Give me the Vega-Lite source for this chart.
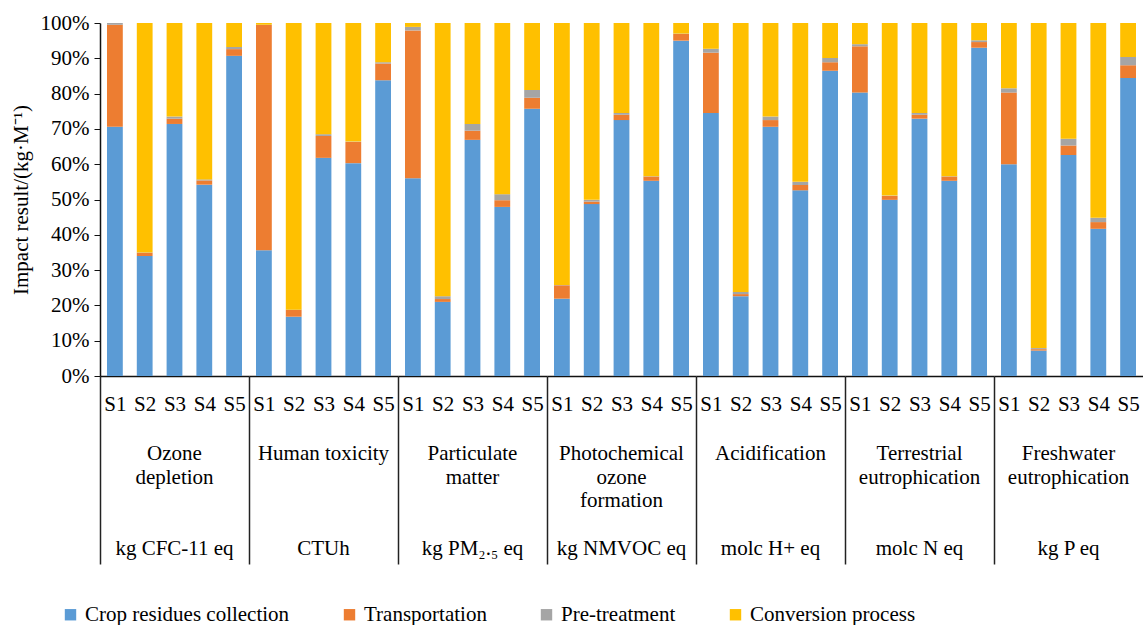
{
  "$schema": "https://vega.github.io/schema/vega-lite/v6.json",
  "padding": {"left": 10, "top": 12, "right": 0, "bottom": 0},
  "background": "white",
  "datasets": {
    "groups": [
      {"gi": 1, "label": "Ozone|depletion|\u2800|\u2800|kg CFC-11 eq"},
      {"gi": 2, "label": "Human toxicity|\u2800|\u2800|\u2800|CTUh"},
      {"gi": 3, "label": "Particulate|matter|\u2800|\u2800|kg PM\u2082.\u2085 eq"},
      {"gi": 4, "label": "Photochemical|ozone|formation|\u2800|kg NMVOC eq"},
      {"gi": 5, "label": "Acidification|\u2800|\u2800|\u2800|molc H+ eq"},
      {"gi": 6, "label": "Terrestrial|eutrophication|\u2800|\u2800|molc N eq"},
      {"gi": 7, "label": "Freshwater|eutrophication|\u2800|\u2800|kg P eq"}
    ]
  },
  "data": {"values": [
    {"gi":1,"s":"S1","k":1,"c":"Crop residues collection","v":70.6},{"gi":1,"s":"S1","k":2,"c":"Transportation","v":28.9},{"gi":1,"s":"S1","k":3,"c":"Pre-treatment","v":0.5},{"gi":1,"s":"S1","k":4,"c":"Conversion process","v":0.0},
    {"gi":1,"s":"S2","k":1,"c":"Crop residues collection","v":34.0},{"gi":1,"s":"S2","k":2,"c":"Transportation","v":0.9},{"gi":1,"s":"S2","k":3,"c":"Pre-treatment","v":0.1},{"gi":1,"s":"S2","k":4,"c":"Conversion process","v":65.0},
    {"gi":1,"s":"S3","k":1,"c":"Crop residues collection","v":71.4},{"gi":1,"s":"S3","k":2,"c":"Transportation","v":1.5},{"gi":1,"s":"S3","k":3,"c":"Pre-treatment","v":0.6},{"gi":1,"s":"S3","k":4,"c":"Conversion process","v":26.5},
    {"gi":1,"s":"S4","k":1,"c":"Crop residues collection","v":54.2},{"gi":1,"s":"S4","k":2,"c":"Transportation","v":1.2},{"gi":1,"s":"S4","k":3,"c":"Pre-treatment","v":0.3},{"gi":1,"s":"S4","k":4,"c":"Conversion process","v":44.3},
    {"gi":1,"s":"S5","k":1,"c":"Crop residues collection","v":90.7},{"gi":1,"s":"S5","k":2,"c":"Transportation","v":1.9},{"gi":1,"s":"S5","k":3,"c":"Pre-treatment","v":0.6},{"gi":1,"s":"S5","k":4,"c":"Conversion process","v":6.8},
    {"gi":2,"s":"S1","k":1,"c":"Crop residues collection","v":35.6},{"gi":2,"s":"S1","k":2,"c":"Transportation","v":63.8},{"gi":2,"s":"S1","k":3,"c":"Pre-treatment","v":0.1},{"gi":2,"s":"S1","k":4,"c":"Conversion process","v":0.5},
    {"gi":2,"s":"S2","k":1,"c":"Crop residues collection","v":16.8},{"gi":2,"s":"S2","k":2,"c":"Transportation","v":1.9},{"gi":2,"s":"S2","k":3,"c":"Pre-treatment","v":0.1},{"gi":2,"s":"S2","k":4,"c":"Conversion process","v":81.2},
    {"gi":2,"s":"S3","k":1,"c":"Crop residues collection","v":61.8},{"gi":2,"s":"S3","k":2,"c":"Transportation","v":6.2},{"gi":2,"s":"S3","k":3,"c":"Pre-treatment","v":0.5},{"gi":2,"s":"S3","k":4,"c":"Conversion process","v":31.5},
    {"gi":2,"s":"S4","k":1,"c":"Crop residues collection","v":60.3},{"gi":2,"s":"S4","k":2,"c":"Transportation","v":6.0},{"gi":2,"s":"S4","k":3,"c":"Pre-treatment","v":0.1},{"gi":2,"s":"S4","k":4,"c":"Conversion process","v":33.6},
    {"gi":2,"s":"S5","k":1,"c":"Crop residues collection","v":83.8},{"gi":2,"s":"S5","k":2,"c":"Transportation","v":4.7},{"gi":2,"s":"S5","k":3,"c":"Pre-treatment","v":0.4},{"gi":2,"s":"S5","k":4,"c":"Conversion process","v":11.1},
    {"gi":3,"s":"S1","k":1,"c":"Crop residues collection","v":56.0},{"gi":3,"s":"S1","k":2,"c":"Transportation","v":41.9},{"gi":3,"s":"S1","k":3,"c":"Pre-treatment","v":1.0},{"gi":3,"s":"S1","k":4,"c":"Conversion process","v":1.1},
    {"gi":3,"s":"S2","k":1,"c":"Crop residues collection","v":21.0},{"gi":3,"s":"S2","k":2,"c":"Transportation","v":0.8},{"gi":3,"s":"S2","k":3,"c":"Pre-treatment","v":0.8},{"gi":3,"s":"S2","k":4,"c":"Conversion process","v":77.4},
    {"gi":3,"s":"S3","k":1,"c":"Crop residues collection","v":66.9},{"gi":3,"s":"S3","k":2,"c":"Transportation","v":2.6},{"gi":3,"s":"S3","k":3,"c":"Pre-treatment","v":1.9},{"gi":3,"s":"S3","k":4,"c":"Conversion process","v":28.6},
    {"gi":3,"s":"S4","k":1,"c":"Crop residues collection","v":47.9},{"gi":3,"s":"S4","k":2,"c":"Transportation","v":1.9},{"gi":3,"s":"S4","k":3,"c":"Pre-treatment","v":1.7},{"gi":3,"s":"S4","k":4,"c":"Conversion process","v":48.5},
    {"gi":3,"s":"S5","k":1,"c":"Crop residues collection","v":75.7},{"gi":3,"s":"S5","k":2,"c":"Transportation","v":3.1},{"gi":3,"s":"S5","k":3,"c":"Pre-treatment","v":2.2},{"gi":3,"s":"S5","k":4,"c":"Conversion process","v":19.0},
    {"gi":4,"s":"S1","k":1,"c":"Crop residues collection","v":21.9},{"gi":4,"s":"S1","k":2,"c":"Transportation","v":3.8},{"gi":4,"s":"S1","k":3,"c":"Pre-treatment","v":0.1},{"gi":4,"s":"S1","k":4,"c":"Conversion process","v":74.2},
    {"gi":4,"s":"S2","k":1,"c":"Crop residues collection","v":48.7},{"gi":4,"s":"S2","k":2,"c":"Transportation","v":0.7},{"gi":4,"s":"S2","k":3,"c":"Pre-treatment","v":0.5},{"gi":4,"s":"S2","k":4,"c":"Conversion process","v":50.1},
    {"gi":4,"s":"S3","k":1,"c":"Crop residues collection","v":72.5},{"gi":4,"s":"S3","k":2,"c":"Transportation","v":1.5},{"gi":4,"s":"S3","k":3,"c":"Pre-treatment","v":0.5},{"gi":4,"s":"S3","k":4,"c":"Conversion process","v":25.5},
    {"gi":4,"s":"S4","k":1,"c":"Crop residues collection","v":55.3},{"gi":4,"s":"S4","k":2,"c":"Transportation","v":1.2},{"gi":4,"s":"S4","k":3,"c":"Pre-treatment","v":0.1},{"gi":4,"s":"S4","k":4,"c":"Conversion process","v":43.4},
    {"gi":4,"s":"S5","k":1,"c":"Crop residues collection","v":95.0},{"gi":4,"s":"S5","k":2,"c":"Transportation","v":1.9},{"gi":4,"s":"S5","k":3,"c":"Pre-treatment","v":0.1},{"gi":4,"s":"S5","k":4,"c":"Conversion process","v":3.0},
    {"gi":5,"s":"S1","k":1,"c":"Crop residues collection","v":74.5},{"gi":5,"s":"S1","k":2,"c":"Transportation","v":17.1},{"gi":5,"s":"S1","k":3,"c":"Pre-treatment","v":1.1},{"gi":5,"s":"S1","k":4,"c":"Conversion process","v":7.3},
    {"gi":5,"s":"S2","k":1,"c":"Crop residues collection","v":22.6},{"gi":5,"s":"S2","k":2,"c":"Transportation","v":0.6},{"gi":5,"s":"S2","k":3,"c":"Pre-treatment","v":0.6},{"gi":5,"s":"S2","k":4,"c":"Conversion process","v":76.2},
    {"gi":5,"s":"S3","k":1,"c":"Crop residues collection","v":70.6},{"gi":5,"s":"S3","k":2,"c":"Transportation","v":1.9},{"gi":5,"s":"S3","k":3,"c":"Pre-treatment","v":1.0},{"gi":5,"s":"S3","k":4,"c":"Conversion process","v":26.5},
    {"gi":5,"s":"S4","k":1,"c":"Crop residues collection","v":52.6},{"gi":5,"s":"S4","k":2,"c":"Transportation","v":1.5},{"gi":5,"s":"S4","k":3,"c":"Pre-treatment","v":0.9},{"gi":5,"s":"S4","k":4,"c":"Conversion process","v":45.0},
    {"gi":5,"s":"S5","k":1,"c":"Crop residues collection","v":86.5},{"gi":5,"s":"S5","k":2,"c":"Transportation","v":2.4},{"gi":5,"s":"S5","k":3,"c":"Pre-treatment","v":1.2},{"gi":5,"s":"S5","k":4,"c":"Conversion process","v":9.9},
    {"gi":6,"s":"S1","k":1,"c":"Crop residues collection","v":80.3},{"gi":6,"s":"S1","k":2,"c":"Transportation","v":13.1},{"gi":6,"s":"S1","k":3,"c":"Pre-treatment","v":0.6},{"gi":6,"s":"S1","k":4,"c":"Conversion process","v":6.0},
    {"gi":6,"s":"S2","k":1,"c":"Crop residues collection","v":49.9},{"gi":6,"s":"S2","k":2,"c":"Transportation","v":1.1},{"gi":6,"s":"S2","k":3,"c":"Pre-treatment","v":0.1},{"gi":6,"s":"S2","k":4,"c":"Conversion process","v":48.9},
    {"gi":6,"s":"S3","k":1,"c":"Crop residues collection","v":72.9},{"gi":6,"s":"S3","k":2,"c":"Transportation","v":1.1},{"gi":6,"s":"S3","k":3,"c":"Pre-treatment","v":0.5},{"gi":6,"s":"S3","k":4,"c":"Conversion process","v":25.5},
    {"gi":6,"s":"S4","k":1,"c":"Crop residues collection","v":55.3},{"gi":6,"s":"S4","k":2,"c":"Transportation","v":1.2},{"gi":6,"s":"S4","k":3,"c":"Pre-treatment","v":0.1},{"gi":6,"s":"S4","k":4,"c":"Conversion process","v":43.4},
    {"gi":6,"s":"S5","k":1,"c":"Crop residues collection","v":93.0},{"gi":6,"s":"S5","k":2,"c":"Transportation","v":1.6},{"gi":6,"s":"S5","k":3,"c":"Pre-treatment","v":0.5},{"gi":6,"s":"S5","k":4,"c":"Conversion process","v":4.9},
    {"gi":7,"s":"S1","k":1,"c":"Crop residues collection","v":60.0},{"gi":7,"s":"S1","k":2,"c":"Transportation","v":20.3},{"gi":7,"s":"S1","k":3,"c":"Pre-treatment","v":1.2},{"gi":7,"s":"S1","k":4,"c":"Conversion process","v":18.5},
    {"gi":7,"s":"S2","k":1,"c":"Crop residues collection","v":7.2},{"gi":7,"s":"S2","k":2,"c":"Transportation","v":0.4},{"gi":7,"s":"S2","k":3,"c":"Pre-treatment","v":0.3},{"gi":7,"s":"S2","k":4,"c":"Conversion process","v":92.1},
    {"gi":7,"s":"S3","k":1,"c":"Crop residues collection","v":62.6},{"gi":7,"s":"S3","k":2,"c":"Transportation","v":2.7},{"gi":7,"s":"S3","k":3,"c":"Pre-treatment","v":1.9},{"gi":7,"s":"S3","k":4,"c":"Conversion process","v":32.8},
    {"gi":7,"s":"S4","k":1,"c":"Crop residues collection","v":41.7},{"gi":7,"s":"S4","k":2,"c":"Transportation","v":1.9},{"gi":7,"s":"S4","k":3,"c":"Pre-treatment","v":1.2},{"gi":7,"s":"S4","k":4,"c":"Conversion process","v":55.2},
    {"gi":7,"s":"S5","k":1,"c":"Crop residues collection","v":84.4},{"gi":7,"s":"S5","k":2,"c":"Transportation","v":3.6},{"gi":7,"s":"S5","k":3,"c":"Pre-treatment","v":2.4},{"gi":7,"s":"S5","k":4,"c":"Conversion process","v":9.6}
  ]},
  "transform": [
    {"lookup": "gi", "from": {"data": {"name": "groups"}, "key": "gi", "fields": ["label"]}}
  ],
  "facet": {
    "column": {
      "field": "label",
      "type": "nominal",
      "sort": {"field": "gi", "op": "min"},
      "title": null,
      "header": {
        "labelOrient": "bottom",
        "labelExpr": "split(datum.value, '|')",
        "labelFont": "Liberation Serif",
        "labelFontSize": 21,
        "labelColor": "#000",
        "labelLineHeight": 23.7,
        "labelPadding": 67
      }
    }
  },
  "spacing": 0,
  "bounds": "flush",
  "resolve": {"axis": {"x": "independent"}},
  "spec": {
    "width": 149,
    "height": 353,
    "mark": {"type": "bar"},
    "encoding": {
      "x": {
        "field": "s",
        "type": "nominal",
        "title": null,
        "scale": {"paddingInner": 0.47, "paddingOuter": 0.235},
        "axis": {
          "labelAngle": 0,
          "bandPosition": 0,
          "tickOffset": -7,
          "labelOffset": 7,
          "tickSize": 188,
          "tickWidth": 1.5,
          "tickColor": {"condition": {"test": "datum.value === 'S1'", "value": "#222"}, "value": "transparent"},
          "labelPadding": -171,
          "domainColor": "#111",
          "domainWidth": 1.5,
          "labelFont": "Liberation Serif",
          "labelFontSize": 21,
          "labelColor": "#000"
        }
      },
      "y": {
        "field": "v",
        "type": "quantitative",
        "stack": "normalize",
        "title": "Impact result/(kg\u00b7M\u207b\u00b9)",
        "axis": {
          "format": ".0%",
          "values": [0, 0.1, 0.2, 0.3, 0.4, 0.5, 0.6, 0.7, 0.8, 0.9, 1],
          "grid": false,
          "tickSize": 6,
          "tickColor": "#111",
          "domainColor": "#111",
          "domainWidth": 1.5,
          "labelPadding": 5,
          "labelFont": "Liberation Serif",
          "labelFontSize": 21,
          "labelColor": "#000",
          "titleFont": "Liberation Serif",
          "titleFontSize": 21,
          "titleFontWeight": "normal",
          "titleColor": "#000",
          "titlePadding": 9
        }
      },
      "color": {
        "field": "c",
        "type": "nominal",
        "scale": {
          "domain": ["Crop residues collection", "Transportation", "Pre-treatment", "Conversion process"],
          "range": ["#5B9BD5", "#ED7D31", "#A5A5A5", "#FFC000"]
        },
        "legend": {
          "title": null,
          "orient": "none",
          "legendX": -40,
          "legendY": 581,
          "direction": "horizontal",
          "columns": 4,
          "columnPadding": 49,
          "padding": 0,
          "symbolType": "square",
          "symbolSize": 130,
          "symbolStrokeWidth": 0,
          "labelOffset": 4,
          "labelFont": "Liberation Serif",
          "labelFontSize": 21,
          "labelColor": "#000",
          "labelLimit": 400
        }
      },
      "order": {"field": "k", "type": "quantitative"}
    }
  },
  "config": {
    "view": {"stroke": null},
    "font": "Liberation Serif"
  }
}
